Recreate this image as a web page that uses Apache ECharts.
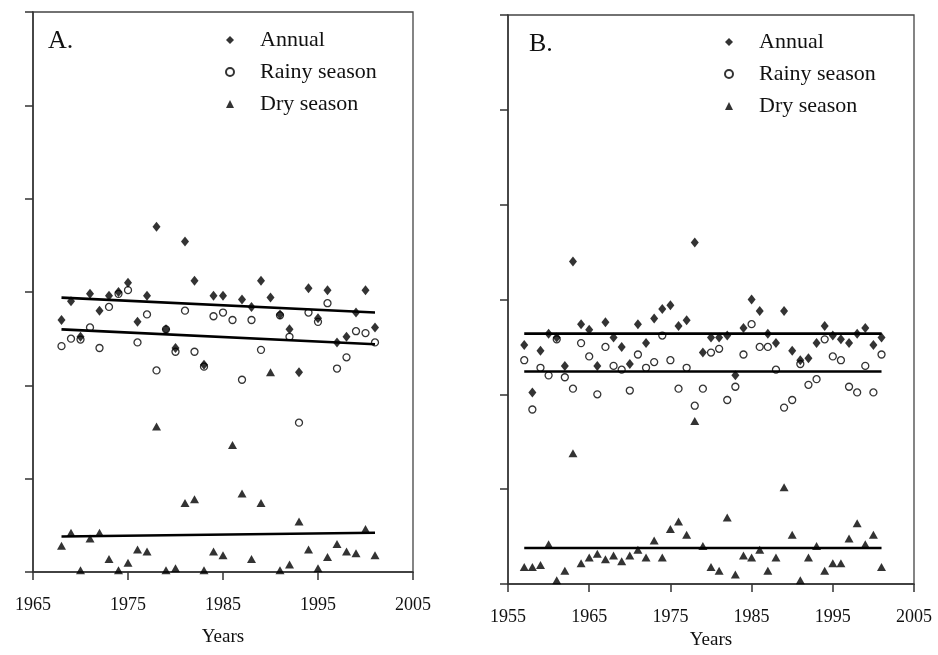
<!DOCTYPE html>
<html>
<head>
    <meta charset="utf-8">
    <title>Rainfall A / B</title>
    <script src="https://cdn.jsdelivr.net/npm/echarts@6/dist/echarts.min.js"></script>
    <style>
        html, body { margin: 0; padding: 0; background: #fff; }
        #chart { width: 938px; height: 655px; }
    </style>
</head>
<body>
    <div id="chart"></div>
    <script type="text/javascript">
        // panel A: 1968-2001
        var yearsA = [1968,1969,1970,1971,1972,1973,1974,1975,1976,1977,1978,1979,1980,1981,1982,1983,1984,
                      1985,1986,1987,1988,1989,1990,1991,1992,1993,1994,1995,1996,1997,1998,1999,2000,2001];
        var annualA = [1350,1450,1260,1490,1400,1480,1500,1550,1340,1480,1850,1300,1200,1770,1560,1110,1480,
                       1480,null,1460,1420,1560,1470,1380,1300,1070,1520,1360,1510,1230,1260,1390,1510,1310];
        var rainyA = [1210,1250,1245,1310,1200,1420,1490,1510,1230,1380,1080,1300,1180,1400,1180,1100,1370,
                      1390,1350,1030,1350,1190,null,1375,1260,800,1390,1340,1440,1090,1150,1290,1280,1230];
        var dryA = [140,210,10,180,210,70,10,50,120,110,780,10,20,370,390,10,110,
                    90,680,420,70,370,1070,10,40,270,120,20,80,150,110,100,230,90];
        // trend lines A [start, end]
        var trendYearsA = [1968, 2001];
        var annualTrendA = [1470, 1390];
        var rainyTrendA = [1300, 1220];
        var dryTrendA = [190, 210];

        // panel B: 1957-2001
        var yearsB = [1957,1958,1959,1960,1961,1962,1963,1964,1965,1966,1967,1968,1969,1970,1971,1972,1973,
                      1974,1975,1976,1977,1978,1979,1980,1981,1982,1983,1984,1985,1986,1987,1988,1989,1990,
                      1991,1992,1993,1994,1995,1996,1997,1998,1999,2000,2001];
        var annualB = [1260,1010,1230,1320,1300,1150,1700,1370,1340,1150,1380,1300,1250,1160,1370,1270,1400,
                       1450,1470,1360,1390,1800,1220,1300,1300,1310,1100,1350,1500,1440,1320,1270,1440,1230,
                       1180,1190,1270,1360,1310,1290,1270,1320,1350,1260,1300];
        var rainyB = [1180,920,1140,1100,1290,1090,1030,1270,1200,1000,1250,1150,1130,1020,1210,1140,1170,
                      1310,1180,1030,1140,940,1030,1220,1240,970,1040,1210,1370,1250,1250,1130,930,970,
                      1160,1050,1080,1290,1200,1180,1040,1010,1150,1010,1210];
        var dryB = [90,90,100,210,20,70,690,110,140,160,130,150,120,150,180,140,230,
                    140,290,330,260,860,200,90,70,350,50,150,140,180,70,140,510,260,
                    20,140,200,70,110,110,240,320,210,260,90];
        var trendYearsB = [1957, 2001];
        var annualTrendB = [1320, 1320];
        var rainyTrendB = [1120, 1120];
        var dryTrendB = [190, 190];

        var baseA = 1965, baseB = 1955;
        var serif = "'Liberation Serif', 'Times New Roman', serif";

        function pairs(years, vals, base) {
            var out = [];
            for (var i = 0; i < years.length; i++) {
                if (vals[i] != null) out.push([years[i] - base, vals[i]]);
            }
            return out;
        }

        var myChart = echarts.init(document.getElementById('chart'));

        function xAxisFor(idx, base, max, gap) {
            return {
                gridIndex: idx, type: 'value', min: 0, max: max, interval: 10,
                name: 'Years', nameLocation: 'middle', nameGap: gap,
                nameTextStyle: { fontFamily: serif, fontSize: 19, color: '#111' },
                axisLine: { lineStyle: { color: '#333', width: 1.5 } },
                axisTick: { inside: false, length: 8, lineStyle: { color: '#333', width: 1.5 } },
                axisLabel: { margin: 24, fontFamily: serif, fontSize: 18, color: '#111',
                             formatter: function (v) { return String(v + base); } },
                splitLine: { show: false }
            };
        }
        function yAxisFor(idx) {
            return {
                gridIndex: idx, type: 'value', min: 0, max: 3000, interval: 500,
                axisLine: { show: true, lineStyle: { color: '#333', width: 1.5 } },
                axisTick: { show: true, inside: false, length: 8, lineStyle: { color: '#333', width: 1.5 } },
                axisLabel: { show: false },
                splitLine: { show: false }
            };
        }

        var diamond = { symbol: 'diamond', symbolSize: [8, 10], itemStyle: { color: '#000' } };
        var circle = { symbol: 'circle', symbolSize: 7, itemStyle: { color: '#fff', borderColor: '#000', borderWidth: 1.3 } };
        var triangle = { symbol: 'triangle', symbolSize: [9, 8], itemStyle: { color: '#000' } };

        function scatter(name, idx, data, look) {
            return {
                name: name, type: 'scatter', xAxisIndex: idx, yAxisIndex: idx, data: data,
                symbol: look.symbol, symbolSize: look.symbolSize, itemStyle: look.itemStyle,
                silent: true
            };
        }
        function trend(idx, years, vals, base) {
            return {
                type: 'line', xAxisIndex: idx, yAxisIndex: idx, data: pairs(years, vals, base),
                symbol: 'none', lineStyle: { color: '#000', width: 2.6 }, silent: true, z: 5
            };
        }

        var legendBase = {
            orient: 'vertical', itemWidth: 8, itemHeight: 8, itemGap: 10, padding: 0,
            selectedMode: false,
            textStyle: { fontFamily: serif, fontSize: 22, color: '#111', padding: [0, 0, 0, 21] },
            data: [{ name: 'Annual', icon: 'diamond' },
                   { name: 'Rainy season', icon: 'circle' },
                   { name: 'Dry season', icon: 'triangle' }]
        };

        var option = {
            animation: false,
            backgroundColor: '#fff',
            title: [
                { text: 'A.', left: 48, top: 28, padding: 0,
                  textStyle: { fontFamily: serif, fontSize: 26, fontWeight: 'normal', color: '#111' } },
                { text: 'B.', left: 529, top: 31, padding: 0,
                  textStyle: { fontFamily: serif, fontSize: 26, fontWeight: 'normal', color: '#111' } }
            ],
            legend: [
                Object.assign({}, legendBase, { left: 225, top: 29 }),
                Object.assign({}, legendBase, { left: 724, top: 31 })
            ],
            grid: [
                { left: 33, top: 12, width: 380, height: 560, show: true, borderColor: '#444', borderWidth: 1.3, backgroundColor: 'transparent' },
                { left: 508, top: 15, width: 406, height: 569, show: true, borderColor: '#444', borderWidth: 1.3, backgroundColor: 'transparent' }
            ],
            xAxis: [xAxisFor(0, baseA, 40, 56), xAxisFor(1, baseB, 50, 44)],
            yAxis: [yAxisFor(0), yAxisFor(1)],
            series: [
                scatter('Rainy season', 0, pairs(yearsA, rainyA, baseA), circle),
                scatter('Dry season', 0, pairs(yearsA, dryA, baseA), triangle),
                scatter('Annual', 0, pairs(yearsA, annualA, baseA), diamond),
                trend(0, trendYearsA, annualTrendA, baseA),
                trend(0, trendYearsA, rainyTrendA, baseA),
                trend(0, trendYearsA, dryTrendA, baseA),

                scatter('Rainy season', 1, pairs(yearsB, rainyB, baseB), circle),
                scatter('Dry season', 1, pairs(yearsB, dryB, baseB), triangle),
                scatter('Annual', 1, pairs(yearsB, annualB, baseB), diamond),
                trend(1, trendYearsB, annualTrendB, baseB),
                trend(1, trendYearsB, rainyTrendB, baseB),
                trend(1, trendYearsB, dryTrendB, baseB)
            ]
        };

        myChart.setOption(option);
    </script>
</body>
</html>
